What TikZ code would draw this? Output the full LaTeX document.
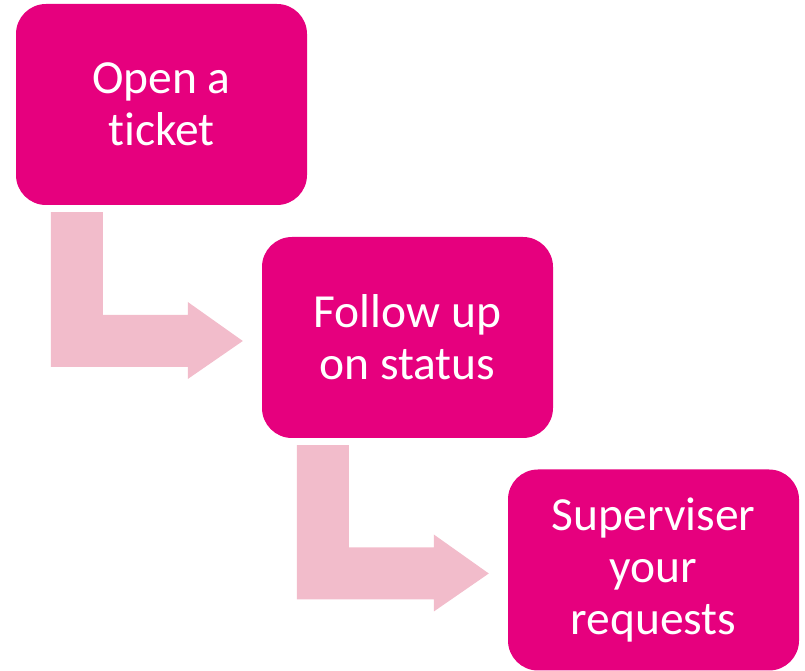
\documentclass[tikz,border=0pt]{standalone}
\usepackage{fontspec}
\setmainfont{Carlito}[RawFeature={-liga;-clig;-dlig}]
\usetikzlibrary{calc}
\definecolor{stepmagenta}{RGB}{230,0,126}
\definecolor{arrowpink}{RGB}{242,188,203}
\tikzset{
  stepbox/.style={fill=stepmagenta, draw=none, rounded corners=30pt, minimum width=291pt, minimum height=201pt, inner sep=0pt, align=center, text=white, font=\fontsize{47.5}{52}\selectfont},
  arrowfill/.style={fill=arrowpink, draw=none}
}
% bent arrow from below one box to the west side of the next
\newcommand{\bentarrow}[2]{%
  \coordinate (s) at ($(#1.south west)+(35,-7)$);
  \fill [arrowfill] (s) -- ++(52,0) |- ($(#2.west)+(-74,22.5)$) -- ++(0,13)
    -- ($(#2.west)+(-19,-3.5)$) -- ($(#2.west)+(-74,-41.5)$) -- ++(0,12) -| (s) -- cycle;
}
\begin{document}
\begin{tikzpicture}[x=1pt, y=1pt]

\useasboundingbox (0,0) rectangle (805,671);

% Steps
\node [stepbox] (open) at (161.5, 566.5) {Open a\\ticket};
\node [stepbox] (follow) at (407.5, 333.5) {Follow up\\on status};
\node [stepbox] (super) at (653.5, 101) {Superviser\\your\\requests};

% Arrows
\bentarrow{open}{follow}
\bentarrow{follow}{super}

\end{tikzpicture}
\end{document}
